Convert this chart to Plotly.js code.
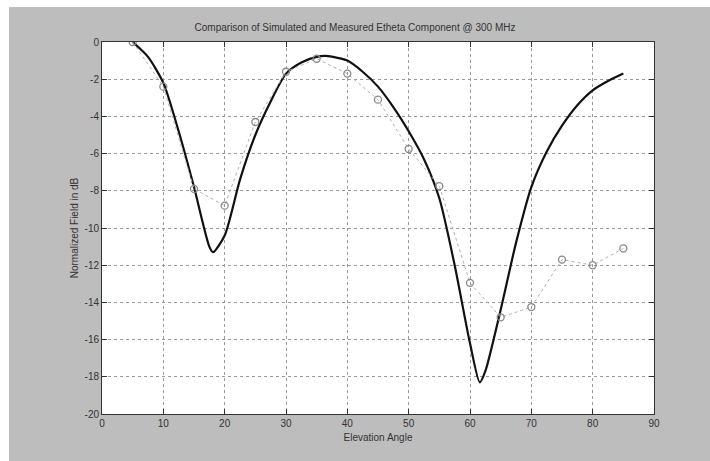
<!DOCTYPE html>
<html>
<head>
<meta charset="utf-8">
<script src="https://cdn.plot.ly/plotly-3.0.1.min.js"></script>
<style>html,body{margin:0;padding:0;background:#fff;}#chart{width:710px;height:461px;}</style>
</head>
<body>
<div id="chart"></div>
<script>
var simAngle = [5, 7.5, 10, 12.5, 15, 17.5, 18.1, 20, 22.5, 25, 27.5, 30, 32.5, 35, 36.5, 40, 42.5, 45, 47.5, 50, 52.5, 55, 57.5, 60, 61.6, 62.5, 65, 67.5, 70, 72.5, 75, 77.5, 80, 82.5, 85];
var simField = [0, -0.8, -2.2, -4.8, -7.8, -11.0, -11.3, -10.4, -7.4, -5.0, -3.2, -1.7, -1.1, -0.8, -0.75, -1.0, -1.6, -2.4, -3.5, -4.8, -6.3, -8.4, -12.0, -16.2, -18.3, -17.7, -14.4, -10.8, -7.8, -5.9, -4.5, -3.4, -2.6, -2.1, -1.7];
var measAngle = [5, 10, 15, 20, 25, 30, 35, 40, 45, 50, 55, 60, 65, 70, 75, 80, 85];
var measField = [0, -2.4, -7.9, -8.8, -4.3, -1.6, -0.9, -1.7, -3.1, -5.75, -7.75, -12.95, -14.8, -14.25, -11.7, -12.0, -11.1];
var xTicks = [0, 10, 20, 30, 40, 50, 60, 70, 80, 90];
var yTicks = [-20, -18, -16, -14, -12, -10, -8, -6, -4, -2, 0];
var titleText = 'Comparison of Simulated and Measured Etheta Component @ 300 MHz';
var xLabel = 'Elevation Angle';
var yLabel = 'Normalized Field in dB';

var traces = [
  {x: simAngle, y: simField, mode: 'lines', line: {color: '#111', width: 2.2, shape: 'spline', smoothing: 0.7}, hoverinfo: 'none'},
  {x: measAngle, y: measField, mode: 'lines+markers', line: {color: '#b0b0b0', width: 1, dash: 'dot'},
   marker: {symbol: 'circle-open', size: 7, color: '#888', line: {width: 1.3, color: '#888'}}, hoverinfo: 'none'}
];

var fontBase = {family: 'Liberation Sans, Arial, sans-serif', size: 10, color: '#333'};

var axisCommon = {
  showline: true, linecolor: '#333', linewidth: 1, mirror: 'ticks',
  ticks: 'inside', ticklen: 5, tickcolor: '#333',
  showgrid: true, gridcolor: '#9a9a9a', griddash: 'dot', gridwidth: 1,
  zeroline: false, tickfont: fontBase
};

var layout = {
  width: 710, height: 461,
  margin: {l: 102, r: 56, t: 42, b: 47, pad: 0},
  paper_bgcolor: '#ffffff', plot_bgcolor: 'rgba(0,0,0,0)',
  showlegend: false,
  title: {text: titleText, font: fontBase, x: 0.5, xanchor: 'center', y: 0.94, yanchor: 'middle'},
  xaxis: Object.assign({}, axisCommon, {range: [0, 90], tickvals: xTicks, ticktext: xTicks.map(String),
    title: {text: xLabel, font: fontBase, standoff: 5}}),
  yaxis: Object.assign({}, axisCommon, {range: [-20, 0], tickvals: yTicks, ticktext: yTicks.map(String),
    title: {text: yLabel, font: fontBase, standoff: 4}}),
  shapes: [
    {type: 'rect', xref: 'paper', yref: 'paper', x0: -0.1685, x1: 1.11, y0: -0.13, y1: 1.094, layer: 'below', fillcolor: '#bdbdbd', line: {width: 0}},
    {type: 'rect', xref: 'paper', yref: 'paper', x0: 0, x1: 1, y0: 0, y1: 1, layer: 'below', fillcolor: '#ffffff', line: {width: 0}}
  ]
};

Plotly.newPlot('chart', traces, layout, {staticPlot: true, displayModeBar: false});
</script>
</body>
</html>
